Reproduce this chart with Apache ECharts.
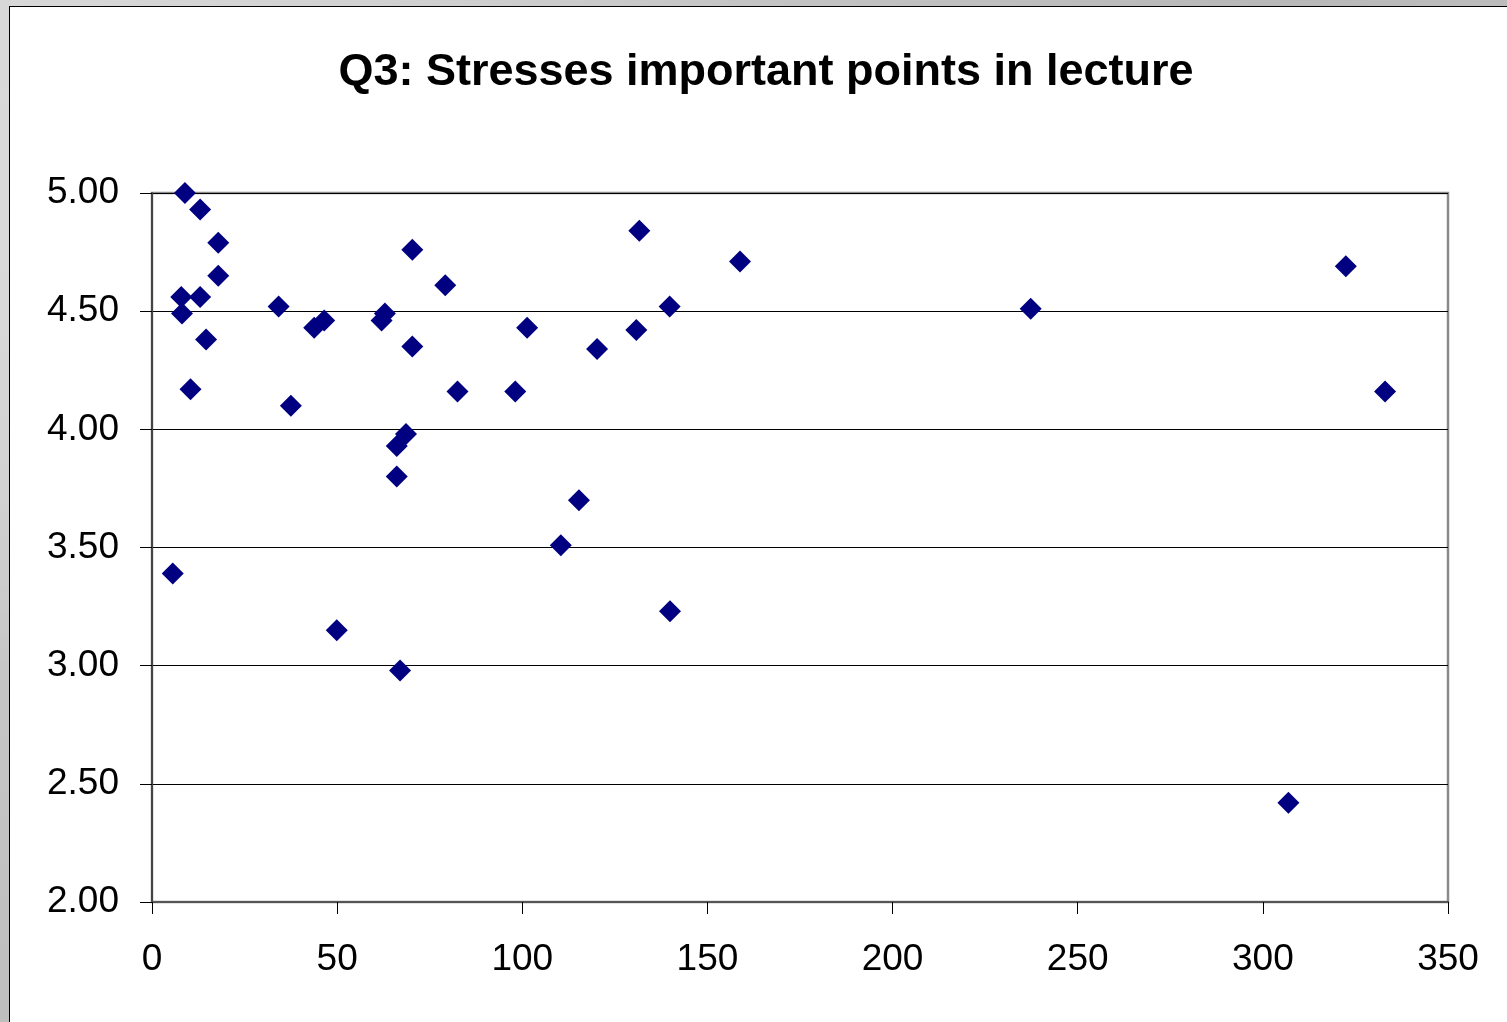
<!DOCTYPE html>
<html>
<head>
<meta charset="utf-8">
<script src="https://cdn.jsdelivr.net/npm/echarts@6/dist/echarts.min.js"></script>
<style>
html,body{margin:0;padding:0;width:1507px;height:1022px;overflow:hidden;
  background:#c8c8c8;
  background-image:
    radial-gradient(ellipse at 20% 30%, rgba(255,255,255,0.35), rgba(255,255,255,0) 40%),
    radial-gradient(ellipse at 80% 70%, rgba(120,120,120,0.25), rgba(120,120,120,0) 45%),
    linear-gradient(135deg,#d6d6d6,#b8b8b8 50%,#d0d0d0);}
#panel{position:absolute;left:9px;top:6px;width:1498px;height:1016px;background:#fff;
  border-left:1px solid #000;border-top:1px solid #000;box-sizing:border-box;}
#chart{position:absolute;left:0;top:0;width:1507px;height:1022px;}
</style>
</head>
<body>
<div id="panel"></div>
<div id="chart"></div>
<script>
// Data
var titleText = 'Q3: Stresses important points in lecture';
var xValues = [8.9, 13.0, 17.9, 17.9, 7.9, 13.0, 8.1, 14.6, 10.4, 5.6,
               34.2, 37.5, 43.8, 46.5, 49.9, 62.0, 62.9, 70.3, 70.3, 68.6,
               66.1, 66.1, 67.0, 79.2, 82.5, 98.1, 101.3, 110.4, 115.3, 120.2,
               130.8, 131.6, 139.8, 139.9, 158.8, 237.3, 306.9, 322.4, 333.0];
var yValues = [5.00, 4.93, 4.79, 4.65, 4.56, 4.56, 4.49, 4.38, 4.17, 3.39,
               4.52, 4.10, 4.43, 4.46, 3.15, 4.46, 4.49, 4.76, 4.35, 3.98,
               3.93, 3.80, 2.98, 4.61, 4.16, 4.16, 4.43, 3.51, 3.70, 4.34,
               4.42, 4.84, 4.52, 3.23, 4.71, 4.51, 2.42, 4.69, 4.16];
var xMin = 0, xMax = 350, xStep = 50;
var yMin = 2.0, yMax = 5.0, yStep = 0.5;

var points = xValues.map(function (x, i) { return [x, yValues[i]]; });
var font = '"Liberation Sans", Arial, sans-serif';

var chart = echarts.init(document.getElementById('chart'), null, {renderer: 'canvas'});
chart.setOption({
  backgroundColor: 'transparent',
  animation: false,
  title: {
    text: titleText,
    left: 761, top: 45, textAlign: 'center',
    textStyle: {fontFamily: font, fontSize: 45, fontWeight: 'bold', color: '#000'}
  },
  grid: {
    left: 152, top: 193, right: 59, bottom: 120,
    show: true, borderColor: '#8a8a8a', borderWidth: 2.5, backgroundColor: 'transparent'
  },
  xAxis: {
    type: 'value', min: xMin, max: xMax, interval: xStep,
    axisLine: {show: true, onZero: false, lineStyle: {color: '#555', width: 2}},
    axisTick: {show: true, inside: false, length: 12, lineStyle: {color: '#000', width: 1}},
    axisLabel: {fontFamily: font, fontSize: 37, color: '#000', margin: 39},
    splitLine: {show: false}
  },
  yAxis: {
    type: 'value', min: yMin, max: yMax, interval: yStep,
    axisLine: {show: true, onZero: false, lineStyle: {color: '#444', width: 2}},
    axisTick: {show: true, inside: false, length: 12, lineStyle: {color: '#000', width: 1}},
    axisLabel: {fontFamily: font, fontSize: 37, color: '#000', margin: 33,
      formatter: function (v) { return v.toFixed(2); }},
    splitLine: {show: true, lineStyle: {color: '#000', width: 1}}
  },
  series: [{
    type: 'scatter',
    data: points,
    symbol: 'diamond',
    symbolSize: 22,
    itemStyle: {color: '#000080', opacity: 1},
    clip: false
  }]
});
</script>
</body>
</html>
